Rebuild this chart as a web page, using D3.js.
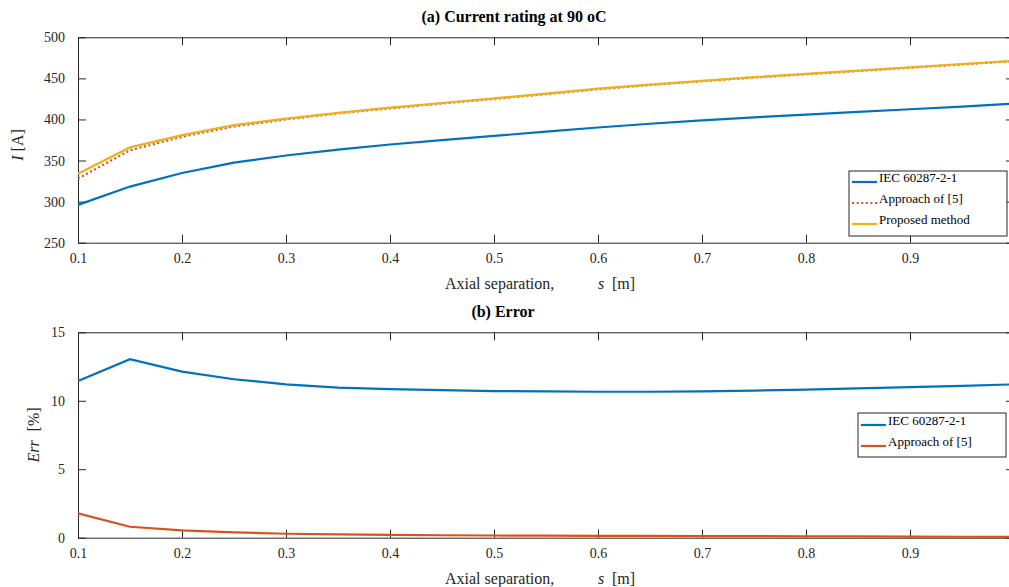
<!DOCTYPE html>
<html>
<head>
<meta charset="utf-8">
<script src="https://cdn.jsdelivr.net/npm/d3@7"></script>
<style>
  body { margin: 0; background: #fff; }
  svg { display: block; font-family: "Liberation Serif", "Times New Roman", serif; }
</style>
</head>
<body>
<svg id="chart" width="1009" height="587"></svg>
<script>
// axial separation s [m]
var sep = [0.1, 0.15, 0.2, 0.25, 0.3, 0.35, 0.4, 0.45, 0.5, 0.55, 0.6, 0.65, 0.7, 0.75, 0.8, 0.85, 0.9, 0.95, 1.0];

// (a) current rating [A]
var iecCurrent = [296, 318.3, 334.8, 347.5, 356.1, 363.3, 369.5, 374.8, 380, 385.2, 390.2, 394.8, 398.8, 402.5, 405.9, 409.2, 412.4, 415.7, 419.2];
var approachCurrent = [328, 362.5, 379, 391.5, 400, 407.5, 413.5, 419.5, 425, 430.8, 436.8, 442, 446.5, 451, 455, 459, 463, 467, 471];
var proposedCurrent = [334, 366, 381, 393, 401, 408, 414.5, 420, 425.6, 431.5, 437.5, 442.5, 447, 451.5, 455.5, 459.5, 463.5, 467.5, 471.5];

// (b) error [%]
var iecErr = [11.45, 13.03, 12.13, 11.57, 11.2, 10.96, 10.85, 10.77, 10.71, 10.68, 10.66, 10.66, 10.68, 10.74, 10.82, 10.9, 11.0, 11.09, 11.2];
var approachErr = [1.78, 0.8, 0.54, 0.39, 0.29, 0.24, 0.2, 0.18, 0.16, 0.15, 0.14, 0.13, 0.12, 0.11, 0.1, 0.09, 0.08, 0.07, 0.06];

var xTicks = [0.1, 0.2, 0.3, 0.4, 0.5, 0.6, 0.7, 0.8, 0.9, 1.0];
var yTicksA = [250, 300, 350, 400, 450, 500];
var yTicksB = [0, 5, 10, 15];

var blue = "#0072BD", red = "#D95319", gold = "#EDB120", axisColor = "#262626";

var svg = d3.select("#chart");

var x = d3.scaleLinear().domain([0.1, 1.0]).range([78, 1014]);

function drawPanel(opts) {
    var y = d3.scaleLinear().domain(opts.domain).range(opts.range);
    var g = svg.append("g");
    var top = opts.range[1], bottom = opts.range[0];

    // axes with inward ticks, like matlab (the 1.0 label falls off the page)
    g.append("g").attr("transform", "translate(0," + bottom + ")")
        .call(d3.axisBottom(x).tickValues(xTicks).tickSizeInner(-8).tickSizeOuter(0).tickPadding(10)
            .tickFormat(function (d) { return d === 1 ? "" : d3.format(".1f")(d); }));
    g.append("g").attr("transform", "translate(0," + top + ")")
        .call(d3.axisTop(x).tickValues(xTicks).tickSizeInner(-8).tickSizeOuter(0).tickFormat(""));
    g.append("g").attr("transform", "translate(78,0)")
        .call(d3.axisLeft(y).tickValues(opts.ticks).tickSizeInner(-8).tickSizeOuter(0).tickPadding(13));
    g.append("g").attr("transform", "translate(1014,0)")
        .call(d3.axisRight(y).tickValues(opts.ticks).tickSizeInner(-8).tickSizeOuter(0).tickFormat(""));

    g.selectAll(".domain").attr("stroke", axisColor).attr("stroke-width", 1);
    g.selectAll(".tick line").attr("stroke", axisColor).attr("stroke-width", 1);
    g.selectAll(".tick text").attr("fill", axisColor).style("font-size", "14px")
        .style("font-family", "Liberation Serif");

    var line = d3.line().x(function (d, i) { return x(sep[i]); }).y(function (d) { return y(d); });
    opts.series.forEach(function (s) {
        g.append("path").datum(s.values)
            .attr("d", line)
            .attr("fill", "none")
            .attr("stroke", s.color)
            .attr("stroke-width", 2.2)
            .attr("stroke-dasharray", s.dash || null);
    });

    // title
    g.append("text").attr("x", opts.titleX).attr("y", top - 15)
        .attr("text-anchor", "middle").style("font-weight", "bold").style("font-size", "16px")
        .text(opts.title);

    // x label
    var xl = g.append("text").attr("y", bottom + 46).style("font-size", "16px").attr("fill", axisColor);
    xl.append("tspan").attr("x", 445).text("Axial separation,");
    xl.append("tspan").attr("x", 598).style("font-style", "italic").text("s");
    xl.append("tspan").attr("x", 612).text("[m]");

    // y label
    var cy = (top + bottom) / 2;
    var yl = g.append("text").attr("transform", "translate(" + opts.ylabelX + "," + (cy + opts.ylabelShift) + ") rotate(-90)")
        .attr("text-anchor", "middle").style("font-size", "16px").attr("fill", axisColor);
    yl.append("tspan").style("font-style", "italic").text(opts.ylabel[0]);
    yl.append("tspan").attr("dx", opts.ylabelGap).text(opts.ylabel[1]);

    // legend
    var lg = opts.legend;
    g.append("rect").attr("x", lg.x).attr("y", lg.y).attr("width", lg.w).attr("height", lg.h)
        .attr("fill", "#fff").attr("stroke", axisColor).attr("stroke-width", 1);
    opts.series.forEach(function (s, i) {
        var ly = lg.y + lg.first + i * lg.step;
        g.append("line").attr("x1", lg.x + 3).attr("x2", lg.x + 28).attr("y1", ly).attr("y2", ly)
            .attr("stroke", s.color).attr("stroke-width", 2.2).attr("stroke-dasharray", s.dash || null);
        g.append("text").attr("x", lg.x + 30).attr("y", ly).style("font-size", "13px")
            .attr("fill", "#000").text(s.name);
    });
}

drawPanel({
    domain: [250, 500], range: [242.7, 37.3], ticks: yTicksA,
    title: "(a) Current rating at 90 oC", titleX: 514,
    ylabel: ["I", " [A]"], ylabelX: 23, ylabelShift: 5, ylabelGap: 0,
    series: [
        { name: "IEC 60287-2-1", values: iecCurrent, color: blue },
        { name: "Approach of [5]", values: approachCurrent, color: red, dash: "2,2.6" },
        { name: "Proposed method", values: proposedCurrent, color: gold }
    ],
    legend: { x: 849, y: 171, w: 158, h: 65, first: 11, step: 21 }
});

drawPanel({
    domain: [0, 15], range: [537.7, 332.3], ticks: yTicksB,
    title: "(b) Error", titleX: 503,
    ylabel: ["Err", "[%]"], ylabelX: 39, ylabelShift: 0, ylabelGap: 9,
    series: [
        { name: "IEC 60287-2-1", values: iecErr, color: blue },
        { name: "Approach of [5]", values: approachErr, color: red }
    ],
    legend: { x: 858, y: 413, w: 148, h: 44, first: 12, step: 21 }
});
</script>
</body>
</html>
